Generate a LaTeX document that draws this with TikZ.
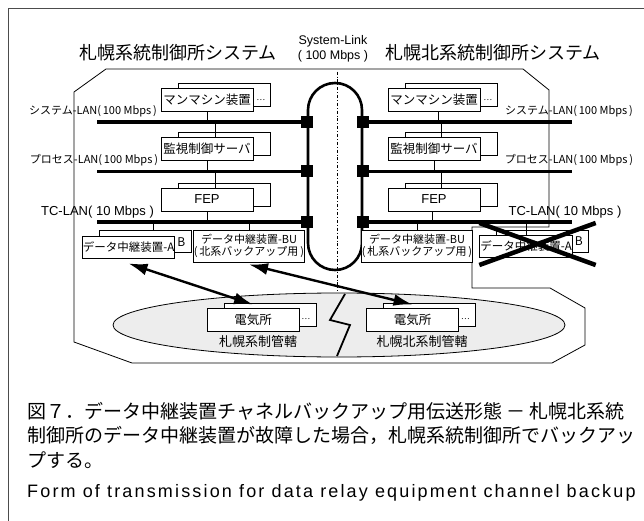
\documentclass[tikz,border=0pt]{standalone}
\usepackage{fontspec}
\setmainfont{Liberation Sans}
\newfontfamily\jp{Noto Sans CJK JP}
\newfontfamily\capfont[LetterSpace=12]{Liberation Sans}
\usetikzlibrary{positioning,arrows.meta,shapes.geometric,calc}

\begin{document}
\begin{tikzpicture}[
  x=1pt, y=-1pt,
  unit/.style={draw, fill=white, line width=0.9pt, minimum width=92pt, minimum height=23pt,
               inner sep=0.5pt, font=\jp\fontsize{12.5}{14}\selectfont},
  back/.style={draw, fill=white, line width=0.9pt, minimum width=92pt, minimum height=23pt, inner sep=0pt},
  relay/.style={draw, fill=white, line width=0.9pt, minimum width=100pt, minimum height=32pt,
                inner sep=0.5pt, align=center, font=\jp\fontsize{11}{12.5}\selectfont},
  bus/.style={line width=3.5pt},
  tap/.style={fill=black, minimum size=12pt, inner sep=0pt},
  wire/.style={line width=0.9pt},
  lan/.style={font=\jp\fontsize{11}{12}\selectfont, inner sep=0pt},
  tclan/.style={font=\fontsize{13}{15}\selectfont, inner sep=0pt},
  title/.style={font=\jp\fontsize{18}{20}\selectfont, inner sep=0pt},
  dots/.style={font=\jp\fontsize{8}{9}\selectfont, inner sep=1pt},
  twoway/.style={{Latex[length=19pt,width=12pt]}-{Latex[length=19pt,width=12pt]}, line width=2.4pt},
  cross/.style={line width=4.5pt},
]
\useasboundingbox (0,0) rectangle (644,521);

%% ── FRAME AND SYSTEM BOUNDARY ───────────────────────────────────────────────
\draw[gray!60!black, line width=0.8pt] (8,521) -- (8,8) -- (644,8);
\draw[line width=0.8pt] (106,69) -- (523,69) -- (549,90) -- (549,227) -- (472,227) -- (472,288)
  -- (550,288) -- (585,308) -- (585,345) -- (552,363) -- (132,363) -- (74,342) -- (74,92) -- cycle;

%% ── STATION AREA ────────────────────────────────────────────────────────────
\node[ellipse, draw, fill=gray!14, line width=0.8pt, minimum width=452pt, minimum height=64pt,
      inner sep=0pt] (area) at (339,325) {};
\draw[line width=1.8pt] (345,294) -- (330,320) -- (350,325) -- (337,356);

%% ── SYSTEM-LINK ─────────────────────────────────────────────────────────────
\node[draw, line width=2.6pt, rounded corners=27pt, minimum width=54pt, minimum height=187pt,
      inner sep=0pt] (link) at (335,176.5) {};
\draw[line width=0.8pt, dash dot] ([xshift=2pt, yshift=10pt]link.north) -- ([xshift=2pt, yshift=-20pt]link.south);

%% ── LAN BUSES ───────────────────────────────────────────────────────────────
\coordinate (sysL) at (97,122);   \coordinate (sysR) at (572,122);
\coordinate (prcL) at (97,171.5); \coordinate (prcR) at (572,171.5);
\coordinate (tcL)  at (97,222);   \coordinate (tcR)  at (572,222);
\foreach \b in {sys,prc,tc} {
  \draw[bus] (\b L) -- (\b L -| link.west);
  \draw[bus] (link.east |- \b R) -- (\b R);
  \node[tap] at (link.west |- \b L) {};
  \node[tap] at (link.east |- \b R) {};
}

%% ── LEFT CENTRE: 札幌系統 ────────────────────────────────────────────────────
\node[back] (mmLb)  at (224,95) {};
\node[unit] (mmL)   at (207,100) {マンマシン装置};
\node[dots, right=2pt of mmL] (mmLd) {…};
\node[back] (svLb)  at (224,143.5) {};
\node[unit] (svL)   at (207,148.5) {監視制御サーバ};
\node[back] (fepLb) at (224,194.5) {};
\node[unit, font=\fontsize{13}{15}\selectfont] (fepL) at (207,199.5) {FEP};
\node[back, minimum height=22pt] (relALb) at (145,241) {};
\node[unit, minimum height=22pt, font=\jp\fontsize{11.5}{13}\selectfont] (relAL) at (128.5,247) {データ中継装置-A};
\node[dots, font=\jp\fontsize{12}{13}\selectfont, right=1pt of relAL, yshift=5pt] (relALd) {B};
\node[relay] (BUL) at (249,246) {データ中継装置-BU\\(\,北系バックアップ用\,)};

%% ── RIGHT CENTRE: 札幌北系統 ──────────────────────────────────────────────────
\node[back] (mmRb)  at (451,95) {};
\node[unit] (mmR)   at (434,100) {マンマシン装置};
\node[dots, right=2pt of mmR] (mmRd) {…};
\node[back] (svRb)  at (451,143.5) {};
\node[unit] (svR)   at (434,148.5) {監視制御サーバ};
\node[back] (fepRb) at (451,194.5) {};
\node[unit, font=\fontsize{13}{15}\selectfont] (fepR) at (434,199.5) {FEP};
\node[relay] (BUR) at (417,246) {データ中継装置-BU\\(\,札系バックアップ用\,)};
\node[back, minimum height=22pt] (relARb) at (542.5,241) {};
\node[unit, minimum height=22pt, font=\jp\fontsize{11.5}{13}\selectfont] (relAR) at (526,246) {データ中継装置-A};
\node[dots, font=\jp\fontsize{12}{13}\selectfont, right=1pt of relAR, yshift=5pt] (relARd) {B};

%% ── STATIONS ────────────────────────────────────────────────────────────────
\node[back] (stnLb) at (270,314.5) {};
\node[unit] (stnL)  at (253,319.5) {電気所};
\node[dots, right=1pt of stnL] (stnLd) {…};
\node[back] (stnRb) at (429.5,314.5) {};
\node[unit] (stnR)  at (412.5,319.5) {電気所};
\node[dots, right=1pt of stnR] (stnRd) {…};
\node[font=\jp\fontsize{13}{15}\selectfont, inner sep=0pt] (areaL) at (258,342) {札幌系制管轄};
\node[font=\jp\fontsize{13}{15}\selectfont, inner sep=0pt] (areaR) at (422,342) {札幌北系制管轄};

%% ── DROPS TO THE BUSES ──────────────────────────────────────────────────────
\draw[wire] (mmL.south) -- (mmL.south |- sysL);
\draw[wire] ([xshift=8pt]svL.north) -- ([xshift=8pt]svL.north |- sysL);
\draw[wire] (svL.south) -- (svL.south |- prcL);
\draw[wire] ([xshift=8pt]fepL.north) -- ([xshift=8pt]fepL.north |- prcL);
\draw[wire] (fepL.south) -- (fepL.south |- tcL);
\draw[wire] ([xshift=8pt]relALb.north) -- ([xshift=8pt]relALb.north |- tcL);
\draw[wire] (BUL.north) -- (BUL.north |- tcL);
\draw[wire] ([xshift=4pt]mmR.south) -- ([xshift=4pt]mmR.south |- sysR);
\draw[wire] ([xshift=7pt]svR.north) -- ([xshift=7pt]svR.north |- sysR);
\draw[wire] (svR.south) -- (svR.south |- prcR);
\draw[wire] ([xshift=7pt]fepR.north) -- ([xshift=7pt]fepR.north |- prcR);
\draw[wire] ([xshift=-2pt]fepR.south) -- ([xshift=-2pt]fepR.south |- tcR);
\draw[wire] (BUR.north) -- (BUR.north |- tcR);
\draw[wire] (relAR.north) -- (relAR.north |- tcR);

%% ── TRANSMISSION PATHS ──────────────────────────────────────────────────────
\draw[twoway] ([yshift=-5pt]relAL.south) -- ([yshift=3pt]stnL.north);
\draw[twoway] ([yshift=-2pt]BUL.south) -- ([yshift=3pt]stnR.north);

%% ── FAILED UNIT ─────────────────────────────────────────────────────────────
\draw[cross] ($(relAR.west)+(0,-23)$) -- ($(relAR.east)+(23,19)$);
\draw[cross] ($(relAR.west)+(0,19)$) -- ($(relAR.east)+(23,-23)$);

%% ── LABELS ──────────────────────────────────────────────────────────────────
\node[title] (sysA) at (178,53) {札幌系統制御所システム};
\node[title] (sysB) at (493,53) {札幌北系統制御所システム};
\node[align=center, inner sep=0pt, font=\fontsize{12.5}{15}\selectfont] (linkLbl) at (333,49)
  {System-Link\\(\;100 Mbps\;)};
\node[lan] (sysLblL) at (93,111)  {システム-LAN(\,100 Mbps\,)};
\node[lan] (sysLblR) at (569,111) {システム-LAN(\,100 Mbps\,)};
\node[lan] (prcLblL) at (94,160)  {プロセス-LAN(\,100 Mbps\,)};
\node[lan] (prcLblR) at (569,160) {プロセス-LAN(\,100 Mbps\,)};
\node[tclan] (tcLblL) at (97.5,212) {TC-LAN(\;10 Mbps\;)};
\node[tclan] (tcLblR) at (565,212)  {TC-LAN(\;10 Mbps\;)};

%% ── CAPTION ─────────────────────────────────────────────────────────────────
\node[anchor=north west, align=left, inner sep=0pt, font=\jp\fontsize{19}{24.5}\selectfont] (cap) at (27,402)
  {図７．データ中継装置チャネルバックアップ用伝送形態 － 札幌北系統\\
   制御所のデータ中継装置が故障した場合，札幌系統制御所でバックアッ\\
   プする。};
\node[anchor=west, inner sep=0pt, font=\capfont\fontsize{18}{20}\selectfont] (capEn) at (27,493)
  {Form of transmission for data relay equipment channel backup};
\end{tikzpicture}
\end{document}
